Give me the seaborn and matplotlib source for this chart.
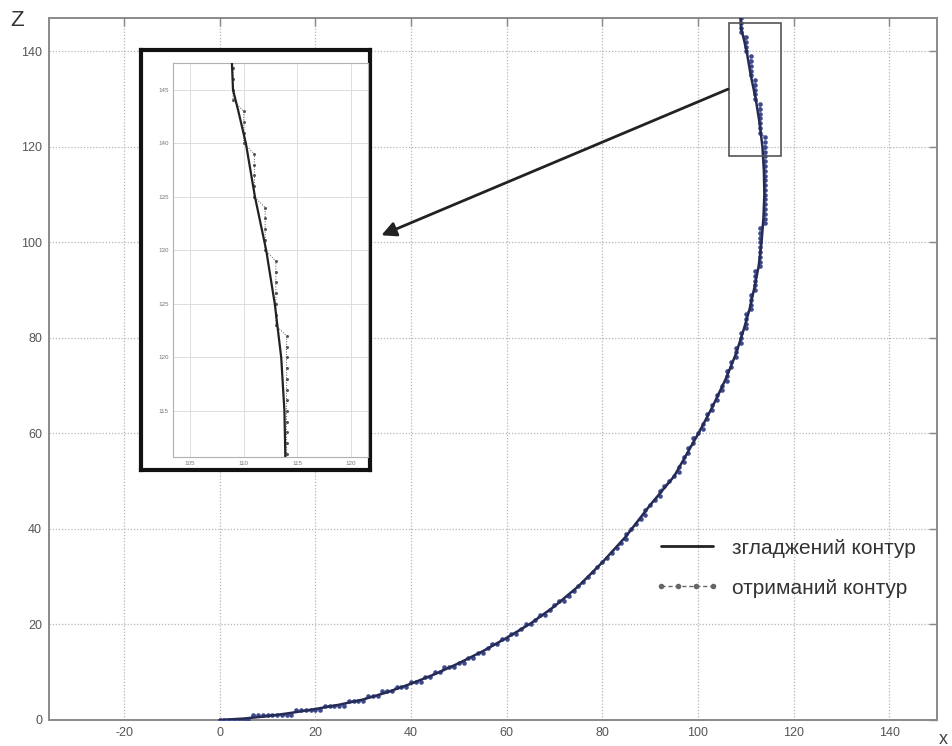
import numpy as np
import pandas as pd
import matplotlib
matplotlib.use("Agg")
import matplotlib.pyplot as plt
import seaborn as sns
from matplotlib.lines import Line2D
from matplotlib.patches import Rectangle

# ---------------- data ----------------
smooth_x = [0, 5, 10, 15, 20, 25, 30, 35, 40, 45, 50, 55, 60, 65, 70, 75, 80, 85, 90, 95,
            100, 103, 106, 108, 109.5, 110.8, 111.8, 112.7, 113.3, 113.7, 113.9, 113.8,
            113.5, 112.9, 112.1, 111.05, 110.2, 109.5, 109.0, 108.9]
smooth_z = [0, 0.3, 0.8, 1.5, 2.3, 3.2, 4.3, 5.8, 7.6, 9.6, 11.9, 14.4, 17.2, 20.2, 23.8,
            28.0, 33.0, 38.5, 45.0, 51.0, 59.8, 65.5, 71.8, 76.8, 81.5, 86.0, 90.5, 95.0,
            100, 105, 110, 115, 120, 125, 130, 135, 140, 143, 145, 147.5]

raw_x = [0, 1, 2, 3, 4, 5, 6, 7, 8, 9, 10, 11, 12, 13, 14, 15, 16, 17, 18, 19, 20,
         21, 22, 23, 24, 25, 26, 27, 28, 29, 30, 31, 32, 33, 34, 35, 36, 37, 38, 39, 40,
         41, 42, 43, 44, 45, 46, 47, 48, 49, 50, 51, 52, 53, 54, 55, 56, 57, 58, 59, 60,
         61, 62, 63, 64, 65, 66, 67, 68, 69, 70, 71, 72, 73, 74, 75, 76, 77, 78, 79, 80,
         81, 82, 83, 84, 85,
         85, 86, 87, 88, 89, 89, 90, 91, 92, 92, 93, 94, 95, 96, 96, 97, 97, 98, 98, 99,
         99, 100, 101, 101, 102, 102, 103, 103, 104, 104, 105, 105, 106, 106, 106, 107,
         107, 108, 108, 108, 109, 109, 109, 110, 110, 110, 110, 111, 111, 111, 111, 112,
         112, 112, 112, 112, 113, 113, 113, 113, 113, 113, 113, 113, 113, 114, 114, 114,
         114, 114, 114, 114, 114, 114, 114, 114, 114, 114, 114, 114, 114, 114, 114, 114,
         113, 113, 113, 113, 113, 113, 113, 112, 112, 112, 112, 112, 111, 111, 111, 111,
         111, 110, 110, 110, 110, 109, 109, 109, 109]
raw_z = [0, 0, 0, 0, 0, 0, 0, 1, 1, 1, 1, 1, 1, 1, 1, 1, 2, 2, 2, 2, 2,
         2, 3, 3, 3, 3, 3, 4, 4, 4, 4, 5, 5, 5, 6, 6, 6, 7, 7, 7, 8,
         8, 8, 9, 9, 10, 10, 11, 11, 11, 12, 12, 13, 13, 14, 14, 15, 16, 16, 17, 17,
         18, 18, 19, 20, 20, 21, 22, 22, 23, 24, 25, 25, 26, 27, 28, 29, 30, 31, 32, 33,
         34, 35, 36, 37, 38,
         39, 40, 41, 42, 43, 44, 45, 46, 47, 48, 49, 50, 51, 52, 53, 54, 55, 56, 57, 58,
         59, 60, 61, 62, 63, 64, 65, 66, 67, 68, 69, 70, 71, 72, 73, 74,
         75, 76, 77, 78, 79, 80, 81, 82, 83, 84, 85, 86, 87, 88, 89, 90,
         91, 92, 93, 94, 95, 96, 97, 98, 99, 100, 101, 102, 103, 104, 105, 106,
         107, 108, 109, 110, 111, 112, 113, 114, 115, 116, 117, 118, 119, 120, 121, 122,
         123, 124, 125, 126, 127, 128, 129, 130, 131, 132, 133, 134, 135, 136, 137, 138,
         139, 140, 141, 142, 143, 144, 145, 146, 147]

x_ticks = [-20, 0, 20, 40, 60, 80, 100, 120, 140]
z_ticks = [0, 20, 40, 60, 80, 100, 120, 140]
inset_x_ticks = [105, 110, 115, 120]
inset_z_ticks = [115, 120, 125, 130, 135, 140, 145]
legend_labels = ["згладжений контур", "отриманий контур"]

smooth_df = pd.DataFrame({"x": smooth_x, "z": smooth_z})
raw_df = pd.DataFrame({"x": raw_x, "z": raw_z})

# ---------------- style ----------------
sns.set_style("white")
plt.rcParams["font.family"] = ["Liberation Sans", "DejaVu Sans"]
plt.rcParams["axes.unicode_minus"] = False

W, H = 953, 746
fig = plt.figure(figsize=(W / 100, H / 100), dpi=100)
fig.patch.set_facecolor("white")

ax = fig.add_axes([49 / W, 26 / H, 888 / W, 702 / H])

sns.lineplot(data=raw_df, x="x", y="z", sort=False, estimator=None, ax=ax,
             color="#3d4b8e", linestyle=":", linewidth=1.0, marker="o",
             markersize=3.3, markeredgewidth=0, zorder=3)
sns.lineplot(data=smooth_df, x="x", y="z", sort=False, estimator=None, ax=ax,
             color="#262b55", linewidth=1.8, zorder=4)

ax.set_xlim(-35.7, 150)
ax.set_ylim(0, 147)
ax.set_xticks(x_ticks)
ax.set_yticks(z_ticks)
ax.set_xlabel("")
ax.set_ylabel("")
ax.grid(True, linestyle=(0, (1, 1.5)), color="#b5b5b5", linewidth=0.9)
ax.tick_params(direction="in", length=6, width=1, color="#888888",
               labelcolor="#555555", labelsize=9, top=True, right=True, pad=5)
for s in ax.spines.values():
    s.set_color("#8a8a8a")
    s.set_linewidth(1.4)

# zoom rectangle and arrow
ax.add_patch(Rectangle((106.4, 118.2), 10.9, 27.7, fill=False,
                       edgecolor="#555555", linewidth=1.2, zorder=5))
ax.annotate("", xy=(33.8, 101.5), xytext=(106.3, 132.1),
            arrowprops=dict(arrowstyle="-|>", color="#222222", lw=2.0,
                            mutation_scale=22, shrinkA=0, shrinkB=0), zorder=6)

# legend
handles = [Line2D([0], [0], color="#222222", linewidth=2.0),
           Line2D([0], [0], color="#666666", linewidth=1.0, linestyle=(0, (3, 2)),
                  marker="o", markersize=4, markeredgewidth=0)]
leg = ax.legend(handles, legend_labels, loc="upper left",
                bbox_to_anchor=(636 / W, (H - 520) / H), bbox_transform=fig.transFigure,
                frameon=False, fontsize=15, handlelength=3.1, handletextpad=0.6,
                labelspacing=1.0, numpoints=4)
for t in leg.get_texts():
    t.set_color("#333333")

# axis labels
fig.text(10 / W, (H - 20) / H, "Z", fontsize=16, color="#333333", va="center", ha="left")
fig.text(943 / W, (H - 739) / H, "x", fontsize=13, color="#444444", va="center", ha="center")

# ---------------- inset ----------------
box = fig.add_axes([141 / W, (H - 470) / H, 229 / W, 420 / H])
box.set_xticks([])
box.set_yticks([])
box.set_facecolor("white")
for s in box.spines.values():
    s.set_color("#111111")
    s.set_linewidth(3)
box.set_zorder(10)

ins = fig.add_axes([173 / W, (H - 457) / H, 195 / W, 394 / H])
ins.set_zorder(11)
sns.lineplot(data=raw_df, x="x", y="z", sort=False, estimator=None, ax=ins,
             color="#555555", linestyle=":", linewidth=0.7, marker="o",
             markersize=2.2, markeredgewidth=0, zorder=3)
sns.lineplot(data=smooth_df, x="x", y="z", sort=False, estimator=None, ax=ins,
             color="#222222", linewidth=1.6, zorder=4)
ins.set_xlim(103.4, 121.6)
ins.set_ylim(110.7, 147.5)
ins.set_xticks(inset_x_ticks)
ins.set_yticks(inset_z_ticks)
ins.set_xlabel("")
ins.set_ylabel("")
ins.grid(True, color="#dddddd", linewidth=0.7)
ins.tick_params(direction="in", length=2, width=0.6, color="#999999",
                labelcolor="#777777", labelsize=4.5, pad=3)
for s in ins.spines.values():
    s.set_color("#b0b0b0")
    s.set_linewidth(0.8)

fig.savefig("out.png", dpi=100, facecolor="white")
